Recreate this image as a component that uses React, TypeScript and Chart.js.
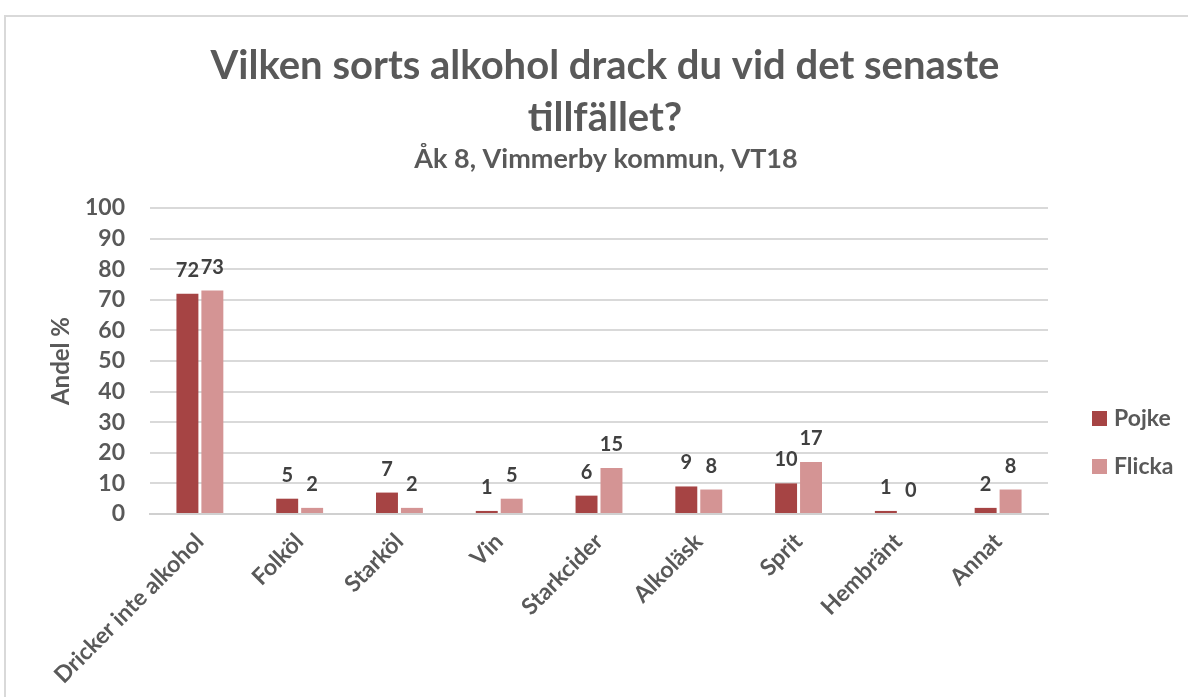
import React, { useEffect, useRef } from "react";
import { Chart, registerables } from "chart.js";

Chart.register(...registerables);

const categories = [
  "Dricker inte alkohol",
  "Folköl",
  "Starköl",
  "Vin",
  "Starkcider",
  "Alkoläsk",
  "Sprit",
  "Hembränt",
  "Annat",
];
const pojke = [72, 5, 7, 1, 6, 9, 10, 1, 2];
const flicka = [73, 2, 2, 5, 15, 8, 17, 0, 8];
const yTicks = [0, 10, 20, 30, 40, 50, 60, 70, 80, 90, 100];
const titleLines = ["Vilken sorts alkohol drack du vid det senaste", "tillfället?"];
const subtitle = "Åk 8, Vimmerby kommun, VT18";
const yTitle = "Andel %";

const FONT = "Lato, 'Open Sans', sans-serif";
const GREY = "#595959";
const POJKE_COLOR = "#A64444";
const FLICKA_COLOR = "#D49494";

const decorPlugin = {
  id: "decor",
  beforeDraw(chart: any) {
    const { ctx, width, height } = chart;
    ctx.save();
    ctx.fillStyle = "#ffffff";
    ctx.fillRect(0, 0, width, height);
    ctx.strokeStyle = "#d9d9d9";
    ctx.lineWidth = 2;
    ctx.beginPath();
    ctx.moveTo(5, height);
    ctx.lineTo(5, 16);
    ctx.lineTo(width, 16);
    ctx.stroke();
    ctx.restore();
  },
  afterDraw(chart: any) {
    const { ctx } = chart;
    ctx.save();
    ctx.fillStyle = GREY;
    ctx.textAlign = "center";
    ctx.textBaseline = "alphabetic";
    ctx.font = `bold 40px ${FONT}`;
    ctx.fillText(titleLines[0], 605, 79);
    ctx.fillText(titleLines[1], 605, 131);
    ctx.font = `bold 27px ${FONT}`;
    ctx.fillText(subtitle, 606, 168);

    // legend
    const items = chart.data.datasets;
    const ys = [418, 466];
    items.forEach((ds: any, i: number) => {
      ctx.fillStyle = ds.backgroundColor;
      ctx.fillRect(1092, ys[i] - 7, 15, 15);
      ctx.fillStyle = GREY;
      ctx.textAlign = "left";
      ctx.textBaseline = "middle";
      ctx.font = `bold 23px ${FONT}`;
      ctx.fillText(ds.label, 1114, ys[i] + 1);
    });
    ctx.restore();
  },
  afterDatasetsDraw(chart: any) {
    const { ctx } = chart;
    ctx.save();
    ctx.fillStyle = "#404040";
    ctx.font = `bold 20px ${FONT}`;
    ctx.textAlign = "center";
    ctx.textBaseline = "alphabetic";
    chart.data.datasets.forEach((ds: any, di: number) => {
      const meta = chart.getDatasetMeta(di);
      meta.data.forEach((el: any, i: number) => {
        ctx.fillText(String(ds.data[i]), el.x, el.y - 17);
      });
    });
    ctx.restore();
  },
};

export default function App() {
  const ref = useRef<HTMLCanvasElement | null>(null);
  useEffect(() => {
    if (!ref.current) return;
    const chart = new Chart(ref.current, {
      type: "bar",
      data: {
        labels: categories,
        datasets: [
          {
            label: "Pojke",
            data: pojke,
            backgroundColor: POJKE_COLOR,
            categoryPercentage: 0.5,
            barPercentage: 0.88,
          },
          {
            label: "Flicka",
            data: flicka,
            backgroundColor: FLICKA_COLOR,
            categoryPercentage: 0.5,
            barPercentage: 0.88,
          },
        ],
      },
      options: {
        animation: false,
        responsive: false,
        devicePixelRatio: 1,
        layout: { padding: { top: 208, left: 0, right: 140, bottom: 0 } },
        plugins: {
          legend: { display: false },
          title: { display: false },
          tooltip: { enabled: false },
        },
        scales: {
          x: {
            grid: { display: false },
            border: { display: true, color: "#d0d0d0", width: 2 },
            ticks: {
              color: GREY,
              font: { family: FONT, size: 23, weight: "bold" },
              maxRotation: 45,
              minRotation: 45,
              padding: 6,
              autoSkip: false,
            },
            afterFit: (s: any) => {
              s.height = 183;
            },
          },
          y: {
            min: 0,
            max: 100,
            afterBuildTicks: (s: any) => {
              s.ticks = yTicks.map((v) => ({ value: v }));
            },
            grid: { color: "#d9d9d9", lineWidth: 2, drawTicks: false },
            border: { display: false },
            ticks: {
              color: GREY,
              font: { family: FONT, size: 23, weight: "bold" },
              padding: 25,
            },
            title: {
              display: true,
              text: yTitle,
              color: GREY,
              font: { family: FONT, size: 24, weight: "bold" },
              padding: { top: 47, bottom: 0 },
            },
            afterFit: (s: any) => {
              s.width = 150;
            },
          },
        },
      },
      plugins: [decorPlugin],
    });
    return () => chart.destroy();
  }, []);
  return (
    <div style={{ position: "fixed", left: 0, top: 0, width: 1188, height: 697 }}>
      <canvas ref={ref} width={1188} height={697} style={{ width: 1188, height: 697 }} />
    </div>
  );
}
